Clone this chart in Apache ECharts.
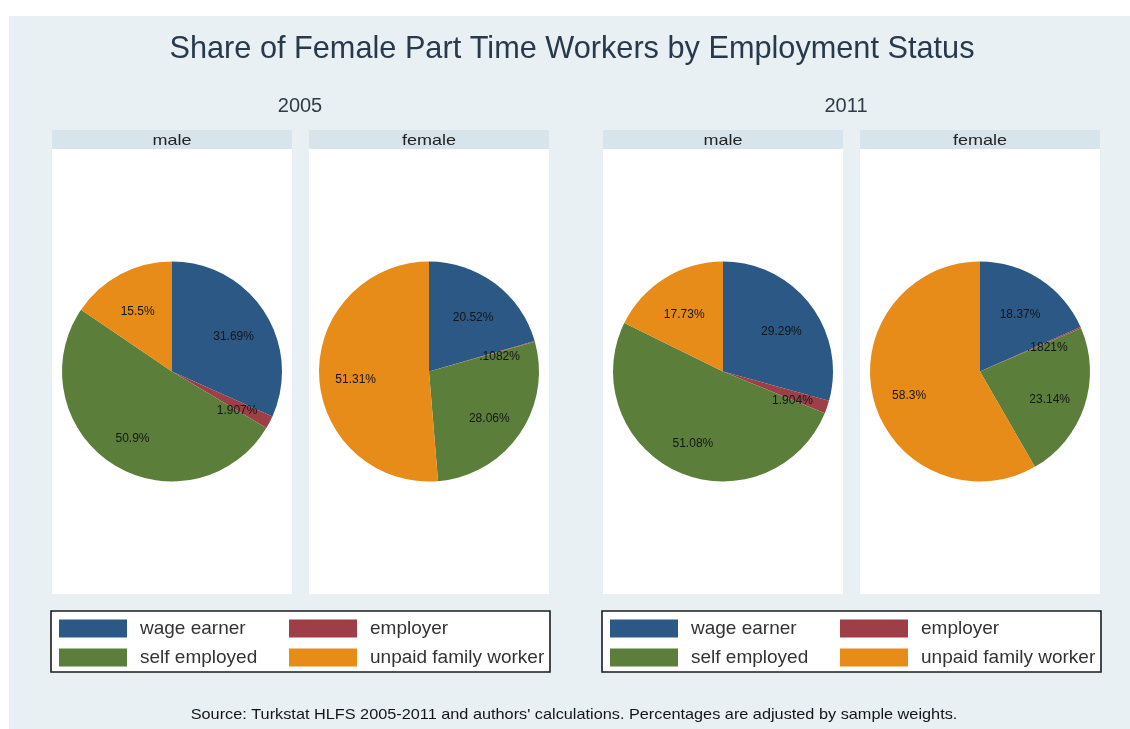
<!DOCTYPE html>
<html>
<head>
<meta charset="utf-8">
<script src="https://cdn.jsdelivr.net/npm/echarts@6/dist/echarts.min.js"></script>
<style>
  html, body { margin: 0; padding: 0; background: #ffffff; }
  #chart { width: 1130px; height: 729px; }
</style>
</head>
<body>
<div id="chart"></div>
<script>
// Employment status categories (legend order, drawn clockwise from 12 o'clock)
const categories = ['wage earner', 'employer', 'self employed', 'unpaid family worker'];

// Shares in percent
const male2005   = [31.69, 1.907, 50.9, 15.5];
const female2005 = [20.52, 0.1082, 28.06, 51.31];
const male2011   = [29.29, 1.904, 51.08, 17.73];
const female2011 = [18.37, 0.1821, 23.14, 58.3];

const years = ['2005', '2011'];
const sexes = ['male', 'female'];

const titleText = 'Share of Female Part Time Workers by Employment Status';
const sourceText = 'Source: Turkstat HLFS 2005-2011 and authors\' calculations. Percentages are adjusted by sample weights.';

const palette = ['#2b5884', '#9e3f48', '#5b7e3b', '#e78b19'];
const FONT = 'Arial, "Liberation Sans", sans-serif';

// Panel geometry
const panelLeft = [52, 309, 603, 860];
const panelWidth = 240;
const stripTop = 130, stripBottom = 149, plotBottom = 594;
const pieR = 110;
const pieCY = (stripBottom + plotBottom) / 2;
const panelData = [male2005, female2005, male2011, female2011];
const panelSex = [sexes[0], sexes[1], sexes[0], sexes[1]];

const legendBoxes = [{ x: 51, w: 499 }, { x: 602, w: 499 }];
const legendTop = 611, legendH = 61;

function fmtPct(v) {
  return String(v).replace(/^0\./, '.') + '%';
}

const graphics = [];
// graph region background
graphics.push({ type: 'rect', z: -10, shape: { x: 9, y: 16, width: 1121, height: 713 }, style: { fill: '#e9f0f3' } });

panelLeft.forEach((x, i) => {
  graphics.push({ type: 'rect', z: -5, shape: { x: x, y: stripTop, width: panelWidth, height: stripBottom - stripTop }, style: { fill: '#d7e4eb' } });
  graphics.push({ type: 'rect', z: -5, shape: { x: x, y: stripBottom, width: panelWidth, height: plotBottom - stripBottom }, style: { fill: '#ffffff' } });
  graphics.push({ type: 'text', z: 50, x: x + panelWidth / 2, y: (stripTop + stripBottom) / 2 + 1,
    scaleX: 1.2, originX: 0, originY: 0,
    style: { text: panelSex[i], fontSize: 15, fontFamily: FONT, fill: '#222', align: 'center', verticalAlign: 'middle' } });
});

legendBoxes.forEach(b => {
  graphics.push({ type: 'rect', z: -5, shape: { x: b.x, y: legendTop, width: b.w, height: legendH },
    style: { fill: '#ffffff', stroke: '#1c1c1c', lineWidth: 1.6 } });
});

// Titles
graphics.push({ type: 'text', z: 50, x: 572, y: 50,
  style: { text: titleText, fontSize: 30.7, fontFamily: FONT, fill: '#26394d', align: 'center', verticalAlign: 'middle' } });
graphics.push({ type: 'text', z: 50, x: 300, y: 106,
  style: { text: years[0], fontSize: 20, fontFamily: FONT, fill: '#2e3b48', align: 'center', verticalAlign: 'middle' } });
graphics.push({ type: 'text', z: 50, x: 846, y: 106,
  style: { text: years[1], fontSize: 20, fontFamily: FONT, fill: '#2e3b48', align: 'center', verticalAlign: 'middle' } });
graphics.push({ type: 'text', z: 50, x: 574, y: 715, scaleX: 1.085,
  style: { text: sourceText, fontSize: 15, fontFamily: FONT, fill: '#151515', align: 'center', verticalAlign: 'middle' } });

// Pies: one filled series per panel, plus a transparent ring carrying the labels a little further out
const series = [];
panelData.forEach((vals, i) => {
  const cx = panelLeft[i] + panelWidth / 2;
  const data = categories.map((c, k) => ({ name: c, value: vals[k], itemStyle: { color: palette[k] } }));
  series.push({
    type: 'pie', center: [cx, pieCY], radius: [0, pieR], startAngle: 90, clockwise: true,
    silent: true, label: { show: false }, labelLine: { show: false },
    emphasis: { disabled: true }, animation: false, data: data
  });
  series.push({
    type: 'pie', center: [cx, pieCY], radius: [pieR * 0.28, pieR], startAngle: 90, clockwise: true,
    silent: true, emphasis: { disabled: true }, animation: false,
    itemStyle: { color: 'rgba(0,0,0,0)' },
    label: { show: true, position: 'inside', fontSize: 12, fontFamily: FONT, color: '#151515',
      offset: [0, 5], formatter: p => fmtPct(p.value) },
    labelLine: { show: false },
    data: categories.map((c, k) => ({ name: c, value: vals[k], itemStyle: { color: 'rgba(0,0,0,0)' } }))
  });
});

// Legends: two columns inside each box
const legendCols = [
  { left: 59, names: [categories[0], categories[2]] },
  { left: 289, names: [categories[1], categories[3]] },
  { left: 610, names: [categories[0], categories[2]] },
  { left: 840, names: [categories[1], categories[3]] }
];
const legends = legendCols.map(col => ({
  orient: 'vertical', left: col.left, top: 619, itemWidth: 68, itemHeight: 18, itemGap: 10,
  icon: 'rect', selectedMode: false, padding: 0,
  textStyle: { fontSize: 19, fontFamily: FONT, color: '#333', lineHeight: 18, padding: [0, 0, 0, 8] },
  data: col.names.map(n => ({ name: n, itemStyle: { color: palette[categories.indexOf(n)] } }))
}));

const chart = echarts.init(document.getElementById('chart'), null, { renderer: 'canvas' });
chart.setOption({
  backgroundColor: '#ffffff',
  animation: false,
  graphic: { elements: graphics },
  legend: legends,
  series: series
});
</script>
</body>
</html>
